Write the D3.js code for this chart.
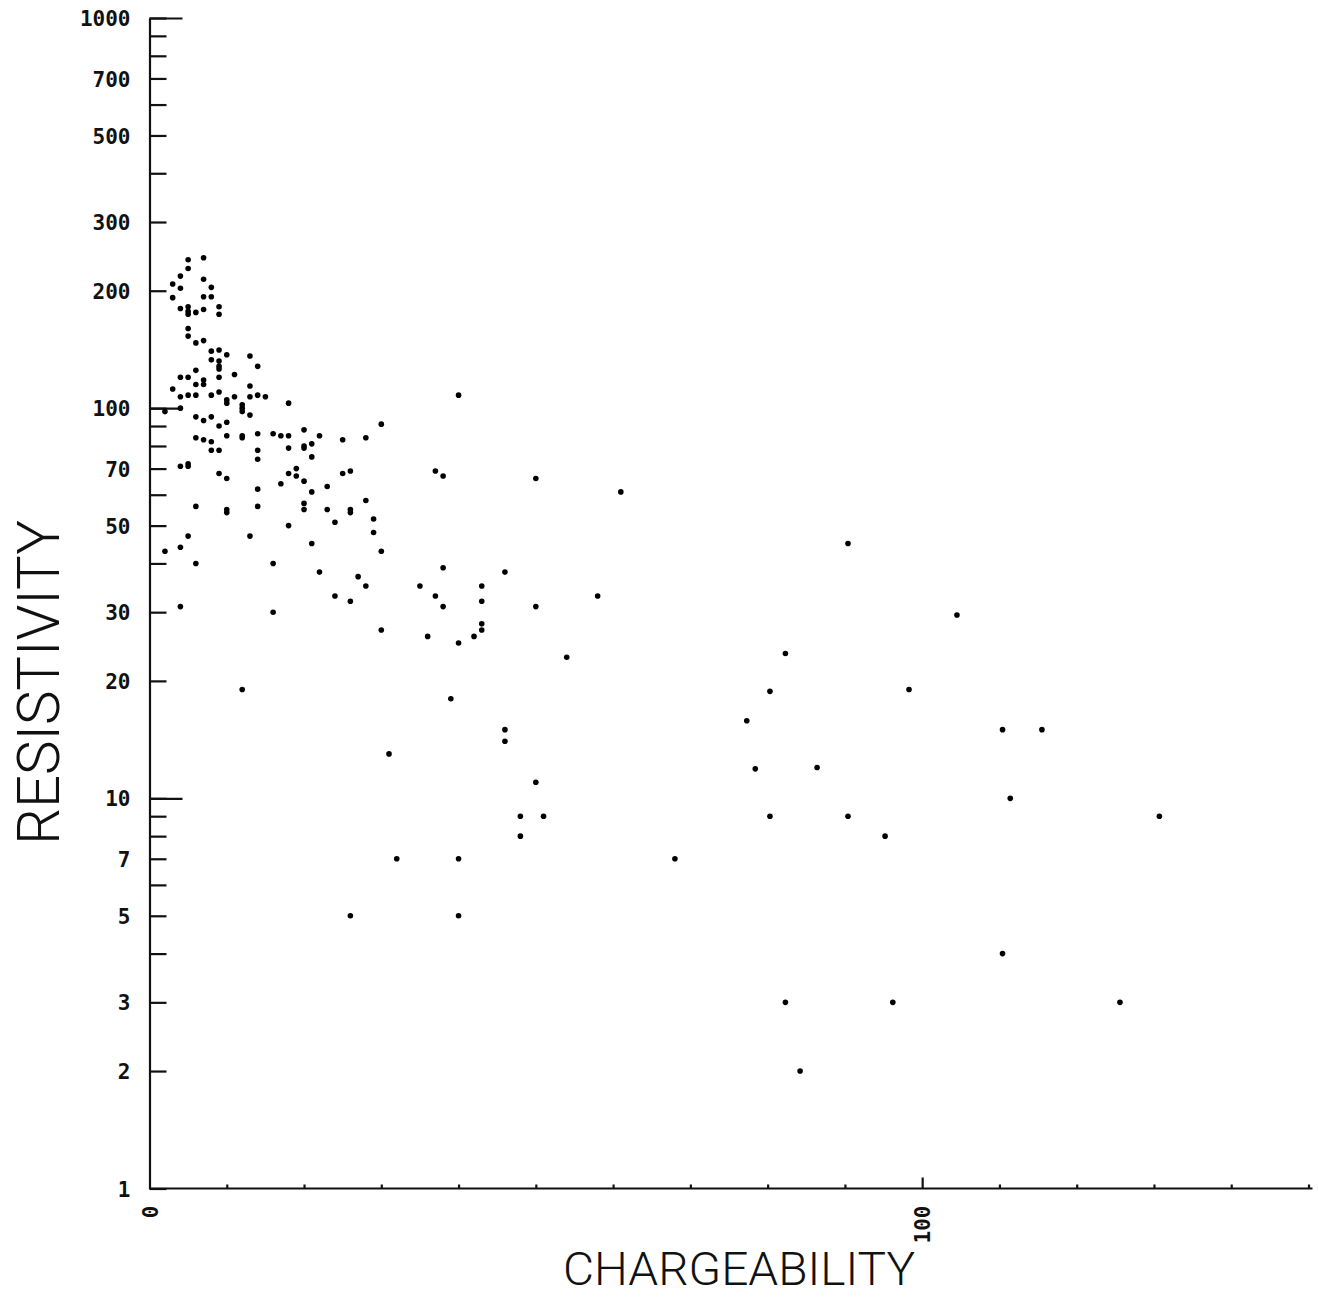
<!DOCTYPE html>
<html>
<head>
<meta charset="utf-8">
<script src="https://cdn.jsdelivr.net/npm/d3@7"></script>
<style>
  body { margin: 0; background: #fff; }
  svg { display: block; }
  .tick text { font-family: "DejaVu Sans Mono", monospace; font-weight: bold; font-size: 21px; fill: #111; }
  .domain, .tick line { stroke: #111; stroke-width: 2.2px; }
  .title { font-family: "Roboto", "DejaVu Sans", sans-serif; font-weight: 300; fill: #111; }
</style>
</head>
<body>
<div id="chart"></div>
<script>
// chargeability (x) and resistivity (y)
const chargeability = [
  5, 7, 4, 5, 3, 4, 7, 8, 3, 7, 8, 4, 5, 5, 5, 6, 7, 9, 9, 5,
  5, 6, 7, 8, 8, 9, 9, 9, 9, 10, 13, 14, 6, 4, 5, 9, 11, 7, 7, 6,
  3, 13, 4, 5, 6, 8, 9, 10, 10, 11, 12, 12, 12, 13, 14, 15, 4, 2, 6, 8,
  7, 9, 10, 13, 6, 7, 8, 10, 12, 12, 14, 16, 8, 9, 14, 14, 4, 5, 5, 9,
  10, 14, 6, 10, 10, 14, 5, 13, 2, 4, 6, 16, 4, 16,
  18, 30, 17, 18, 20, 22, 25, 28, 18, 20, 20, 21, 21, 18, 19, 19, 25, 26, 17, 20,
  21, 23, 20, 20, 23, 26, 26, 28, 24, 29, 29, 18, 21, 30, 22, 27, 28, 24, 26, 35,
  40, 37, 38, 50, 61, 38, 46, 43, 37, 43, 38, 50, 58, 43, 43, 36, 40, 42, 54,
  30, 39, 46, 46, 31, 50, 48, 51, 48, 32, 40, 26, 40,
  12, 68, 90.4, 104.5, 82.3, 80.3, 77.3, 78.4, 80.3, 86.4, 90.4, 95.2, 98.3,
  110.4, 115.5, 111.4, 130.7, 110.4, 82.3, 96.2, 125.6, 84.2
];
const resistivity = [
  240, 243, 218, 228, 208, 203, 214, 204, 192, 193, 193, 180, 182, 177, 174, 176, 179, 182, 174, 160,
  153, 147, 149, 140, 133, 141, 132, 128, 126, 137, 136, 128, 125, 120, 120, 120, 122, 118, 115, 115,
  112, 114, 107, 108, 108, 108, 110, 105, 103, 107, 102, 100, 98, 107, 108, 107, 100, 98, 95, 95,
  93, 90, 92, 96, 84, 83, 82, 85, 85, 84, 86, 86, 78, 78, 78, 74, 71, 72, 71, 68,
  66, 62, 56, 55, 54, 56, 47, 47, 43, 44, 40, 40, 31, 30,
  103, 91, 85, 85, 88, 85, 83, 84, 79, 80, 79, 81, 75, 68, 70, 67, 68, 69, 64, 65,
  61, 63, 57, 55, 55, 55, 54, 58, 51, 52, 48, 50, 45, 43, 38, 37, 35, 33, 32, 35,
  108, 69, 67, 66, 61, 39, 38, 35, 33, 32, 31, 31, 33, 28, 27, 26, 25, 26, 23,
  27, 18, 15, 14, 13, 11, 9, 9, 8, 7, 7, 5, 5,
  19, 7, 45, 29.5, 23.5, 18.8, 15.8, 11.9, 9, 12, 9, 8, 19,
  15, 15, 10, 9, 4, 3, 3, 3, 2
];

const yMinorTicks = [1, 2, 3, 4, 5, 6, 7, 8, 9, 20, 30, 40, 50, 60, 70, 80, 90,
  200, 300, 400, 500, 600, 700, 800, 900];
const yMajorTicks = [10, 100, 1000];
const yLabels = [1, 2, 3, 5, 7, 10, 20, 30, 50, 70, 100, 200, 300, 500, 700, 1000];
const xTicks = d3.range(10, 151, 10);
const xLabels = [0, 100];

const data = chargeability.map((c, i) => ({ c, r: resistivity[i] }));

const W = 1318, H = 1297;
const svg = d3.select("#chart").append("svg")
  .attr("width", W)
  .attr("height", H);

const x = d3.scaleLinear().domain([0, 150]).range([149.5, 1308.5]);
const y = d3.scaleLog().domain([1, 1000]).range([1188.5, 18]);

// y axis: minor ticks + labels
const yAxis = svg.append("g")
  .attr("transform", `translate(${x(0)},0)`)
  .call(d3.axisLeft(y)
    .tickValues(yMinorTicks.concat(yMajorTicks).sort((a, b) => a - b))
    .tickSizeInner(-17)
    .tickSizeOuter(0)
    .tickPadding(19)
    .tickFormat(d => yLabels.includes(d) ? d : ""));
yAxis.selectAll(".tick text").attr("dy", "0.36em");

// longer ticks at each decade
svg.append("g")
  .attr("transform", `translate(${x(0)},0)`)
  .call(d3.axisLeft(y).tickValues(yMajorTicks).tickSizeInner(-33).tickSizeOuter(0).tickFormat(""))
  .call(g => g.select(".domain").remove());

// x axis: small inward ticks
const xAxis = svg.append("g")
  .attr("transform", `translate(0,${y(1)})`)
  .call(d3.axisBottom(x)
    .tickValues(xTicks)
    .tickSizeInner(-4)
    .tickSizeOuter(0)
    .tickFormat(""));
xAxis.select(".domain").attr("d", `M${x(0)},0H${x(150) + 4}`);
xAxis.selectAll(".tick").filter(d => d === 100).select("line").attr("y2", -11);

// rotated x labels
svg.append("g").selectAll("text")
  .data(xLabels)
  .join("text")
  .attr("transform", d => `translate(${x(d) + 8},${y(1) + 17}) rotate(-90)`)
  .attr("text-anchor", "end")
  .style("font-family", "DejaVu Sans Mono, monospace")
  .style("font-weight", "bold")
  .style("font-size", "21px")
  .attr("fill", "#111")
  .text(d => d);

// points
svg.append("g").selectAll("circle")
  .data(data)
  .join("circle")
  .attr("cx", d => x(d.c))
  .attr("cy", d => y(d.r))
  .attr("r", 2.8)
  .attr("fill", "#000");

// axis titles
svg.append("text")
  .attr("class", "title")
  .attr("x", 563)
  .attr("y", 1285)
  .attr("textLength", 352)
  .attr("lengthAdjust", "spacingAndGlyphs")
  .style("font-size", "46px")
  .text("CHARGEABILITY");

svg.append("text")
  .attr("class", "title")
  .attr("transform", "translate(59,845) rotate(-90)")
  .attr("textLength", 325)
  .attr("lengthAdjust", "spacingAndGlyphs")
  .style("font-size", "60px")
  .text("RESISTIVITY");
</script>
</body>
</html>
